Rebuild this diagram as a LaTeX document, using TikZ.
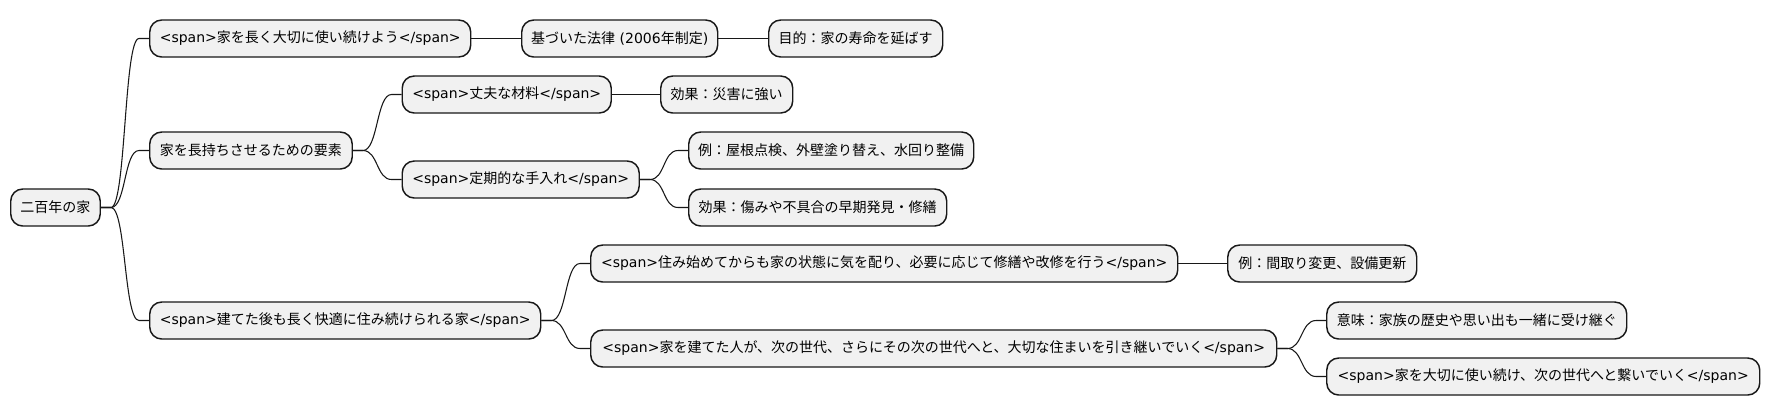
\documentclass[tikz,border=0pt]{standalone}
\usepackage{fontspec}
\setmainfont{DejaVu Sans}
\newfontfamily\jpfont{Noto Sans CJK JP}
\newcommand\J[1]{{\jpfont #1}}
\usetikzlibrary{calc}
\definecolor{nodefill}{HTML}{F1F1F1}
\definecolor{linec}{HTML}{181818}
\tikzset{
  mm/.style={draw=linec, fill=nodefill, rounded corners=9pt, line width=1.1pt,
    minimum height=27.75pt, anchor=west, inner sep=0pt, text=black,
    font=\fontsize{10.5pt}{12pt}\selectfont},
  wd/.style={minimum width=#1*0.75pt},
  conn/.style={draw=linec, line width=0.8pt},
}
\begin{document}
\begin{tikzpicture}[x=0.75pt, y=-0.75pt]
\useasboundingbox (0,0) rectangle (1769,415);
\fill[white] (0,0) rectangle (1769,415);
% nodes
\node[mm, wd=89.5] (root) at (10,207.5) {\J{二百年の家}};
\node[mm, wd=321] (a1) at (149,38.5) {<span>\J{家を長く大切に使い続けよう}</span>};
\node[mm, wd=196] (law) at (521,38.5) {\J{基づいた法律} (2006\J{年制定})};
\node[mm, wd=174] (purpose) at (768,38.5) {\J{目的：家の寿命を延ばす}};
\node[mm, wd=202.5] (a2) at (149,150.5) {\J{家を長持ちさせるための要素}};
\node[mm, wd=209] (b1) at (401.5,94.5) {<span>\J{丈夫な材料}</span>};
\node[mm, wd=132] (eff1) at (660,94.5) {\J{効果：災害に強い}};
\node[mm, wd=237] (b2) at (401.5,179.5) {<span>\J{定期的な手入れ}</span>};
\node[mm, wd=285] (ex1) at (688,150.5) {\J{例：屋根点検、外壁塗り替え、水回り整備}};
\node[mm, wd=258] (eff2) at (688,207.5) {\J{効果：傷みや不具合の早期発見・修繕}};
\node[mm, wd=391] (a3) at (149,320.5) {<span>\J{建てた後も長く快適に住み続けられる家}</span>};
\node[mm, wd=587] (c1) at (590,263.5) {<span>\J{住み始めてからも家の状態に気を配り、必要に応じて修繕や改修を行う}</span>};
\node[mm, wd=189] (ex2) at (1227,263.5) {\J{例：間取り変更、設備更新}};
\node[mm, wd=686] (c2) at (590,348.5) {<span>\J{家を建てた人が、次の世代、さらにその次の世代へと、大切な住まいを引き継いでいく}</span>};
\node[mm, wd=300] (mean) at (1326,320.5) {\J{意味：家族の歴史や思い出も一緒に受け継ぐ}};
\node[mm, wd=433] (last) at (1326,376.5) {<span>\J{家を大切に使い続け、次の世代へと繋いでいく}</span>};
% curved connectors
\foreach \p/\c in {root/a1, root/a2, root/a3, a2/b1, a2/b2, b2/ex1, b2/eff2, a3/c1, a3/c2, c2/mean, c2/last}{
  \draw[conn] (\p.east) -- ++(10,0) .. controls +(15,0) and +(-15,0) .. ($(\c.west)+(-10,0)$) -- (\c.west);
}
% straight connectors
\foreach \p/\c in {a1/law, law/purpose, b1/eff1, c1/ex2}{
  \draw[conn] (\p.east) -- (\c.west);
}
\end{tikzpicture}
\end{document}
